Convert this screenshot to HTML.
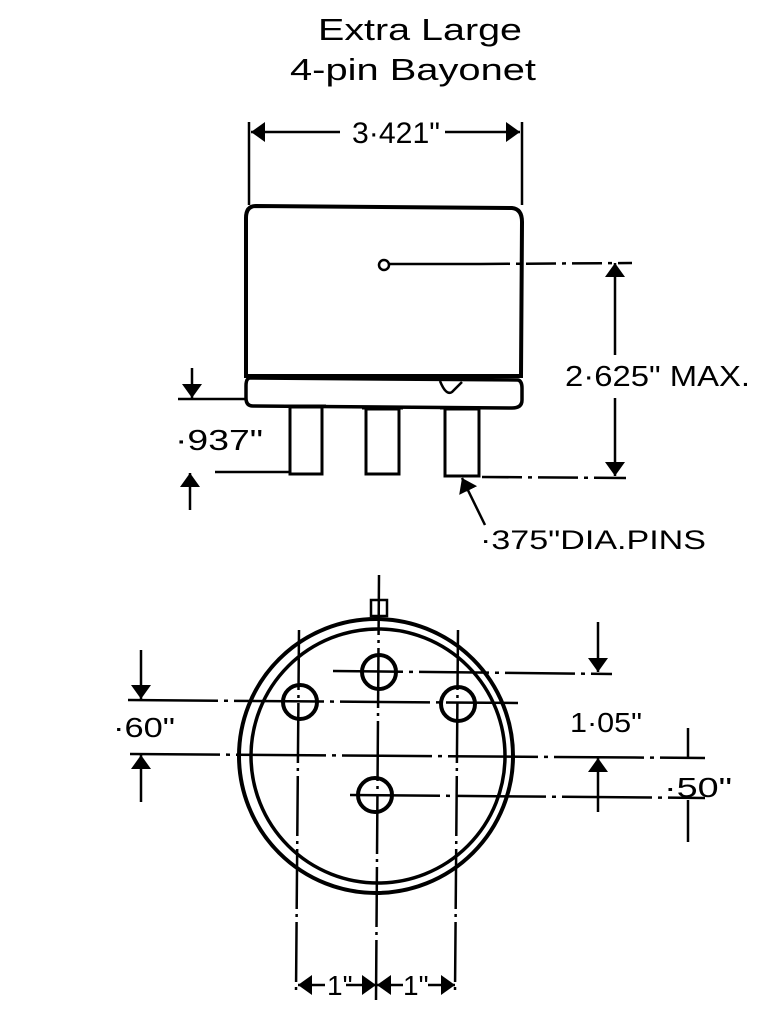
<!DOCTYPE html>
<html><head><meta charset="utf-8"><style>
html,body{margin:0;padding:0;background:#fff;}
svg{display:block;}
text{font-family:"Liberation Sans",sans-serif;fill:#000;}
</style></head><body>
<svg width="768" height="1024" viewBox="0 0 768 1024" xmlns="http://www.w3.org/2000/svg">
<defs>
<marker id="b" viewBox="0 0 10 10" refX="10" refY="5" markerWidth="14" markerHeight="20" orient="auto-start-reverse" markerUnits="userSpaceOnUse" preserveAspectRatio="none"><path d="M0,0 L10,5 L0,10 z" fill="#000"/></marker>
</defs>
<g stroke="#000" fill="none">
<text x="420" y="40" font-size="31" text-anchor="middle" stroke="none" textLength="204" lengthAdjust="spacingAndGlyphs">Extra Large</text>
<text x="413" y="80" font-size="31" text-anchor="middle" stroke="none" textLength="246" lengthAdjust="spacingAndGlyphs">4-pin Bayonet</text>

<!-- 3.421 dimension -->
<line x1="249" y1="122" x2="249" y2="205" stroke-width="2.5"/>
<line x1="522" y1="122" x2="522" y2="205" stroke-width="2.5"/>
<line x1="340" y1="132" x2="251" y2="132" stroke-width="2.5" marker-end="url(#b)"/>
<line x1="445" y1="132" x2="520" y2="132" stroke-width="2.5" marker-end="url(#b)"/>
<text x="352" y="143" font-size="30" stroke="none" textLength="88" lengthAdjust="spacingAndGlyphs">3·421"</text>

<!-- body -->
<path d="M256,206 L512,208 Q522,209 522,222 L521,376 L246,376 L246,218 Q246,206 256,206 Z" stroke-width="4"/>
<path d="M250,378 L518,380 Q522,381 522,388 L522,400 Q522,408 512,408 L253,406 Q246,406 246,398 L246,386 Q246,378 250,378 Z" stroke-width="3.5"/>
<path d="M440,381 Q446,396 452,392 Q456,388 462,382" stroke-width="2.5"/>
<circle cx="384" cy="265" r="5" stroke-width="2.5"/>
<line x1="389" y1="264" x2="480" y2="264" stroke-width="2.5"/>
<line x1="480" y1="264" x2="632" y2="263" stroke-width="2.5" stroke-dasharray="30,6,4,6"/>
<!-- pins -->
<rect x="290" y="407" width="32" height="67" stroke-width="3"/>
<rect x="366" y="409" width="33" height="65" stroke-width="3"/>
<rect x="445" y="409" width="34" height="67" stroke-width="3"/>
<line x1="286" y1="406" x2="326" y2="406" stroke-width="3"/>
<line x1="362" y1="408" x2="403" y2="408" stroke-width="3"/>
<line x1="440" y1="408" x2="484" y2="408" stroke-width="3"/>
<!-- 2.625 -->
<line x1="482" y1="477" x2="626" y2="478" stroke-width="2.5" stroke-dasharray="40,6,4,6"/>
<line x1="615" y1="355" x2="615" y2="263" stroke-width="2.5" marker-end="url(#b)"/>
<line x1="615" y1="398" x2="615" y2="476" stroke-width="2.5" marker-end="url(#b)"/>
<text x="565" y="386" font-size="29" stroke="none" textLength="185" lengthAdjust="spacingAndGlyphs">2·625" MAX.</text>
<!-- .937 -->
<line x1="178" y1="399" x2="246" y2="399" stroke-width="2.5"/>
<line x1="215" y1="472" x2="290" y2="472" stroke-width="2.5"/>
<line x1="192" y1="368" x2="192" y2="398" stroke-width="2.5" marker-end="url(#b)"/>
<line x1="190" y1="510" x2="190" y2="473" stroke-width="2.5" marker-end="url(#b)"/>
<text x="175" y="450" font-size="29" stroke="none" textLength="88" lengthAdjust="spacingAndGlyphs">·937"</text>
<!-- leader -->
<line x1="485" y1="525" x2="462" y2="478" stroke-width="2.5" marker-end="url(#b)"/>
<text x="480" y="549" font-size="27" stroke="none" textLength="226" lengthAdjust="spacingAndGlyphs">·375"DIA.PINS</text>

<!-- bottom view -->
<rect x="371" y="600" width="16" height="16" stroke-width="2.5"/>
<line x1="379" y1="600" x2="379" y2="616" stroke-width="2"/>
<circle cx="376" cy="756" r="137" stroke-width="4"/>
<circle cx="378" cy="756" r="127" stroke-width="3.5"/>
<circle cx="379" cy="672" r="17" stroke-width="4"/>
<circle cx="300" cy="702" r="17" stroke-width="4"/>
<circle cx="458" cy="704" r="17" stroke-width="4"/>
<circle cx="375" cy="795" r="17" stroke-width="4"/>
<!-- centre lines -->
<line x1="379" y1="575" x2="376" y2="1000" stroke-width="2.5" stroke-dasharray="60,5,3,5"/>
<line x1="299" y1="630" x2="296" y2="992" stroke-width="2.5" stroke-dasharray="60,5,3,5"/>
<line x1="458" y1="630" x2="455" y2="992" stroke-width="2.5" stroke-dasharray="60,5,3,5"/>
<line x1="333" y1="671" x2="612" y2="674" stroke-width="2.5" stroke-dasharray="70,6,4,6"/>
<line x1="128" y1="700" x2="518" y2="703" stroke-width="2.5" stroke-dasharray="90,6,4,6"/>
<line x1="130" y1="754" x2="705" y2="758" stroke-width="2.5" stroke-dasharray="90,6,4,6"/>
<line x1="350" y1="795" x2="705" y2="798" stroke-width="2.5" stroke-dasharray="90,6,4,6"/>
<!-- .60 -->
<line x1="141" y1="650" x2="141" y2="699" stroke-width="2.5" marker-end="url(#b)"/>
<line x1="141" y1="802" x2="141" y2="755" stroke-width="2.5" marker-end="url(#b)"/>
<text x="113" y="737" font-size="28" stroke="none" textLength="62" lengthAdjust="spacingAndGlyphs">·60"</text>
<!-- 1.05 -->
<line x1="598" y1="622" x2="598" y2="672" stroke-width="2.5" marker-end="url(#b)"/>
<line x1="598" y1="812" x2="598" y2="758" stroke-width="2.5" marker-end="url(#b)"/>
<text x="570" y="732" font-size="28" stroke="none" textLength="72" lengthAdjust="spacingAndGlyphs">1·05"</text>
<!-- .50 -->
<line x1="688" y1="728" x2="688" y2="757" stroke-width="2.5"/>
<line x1="688" y1="800" x2="688" y2="842" stroke-width="2.5"/>
<text x="664" y="797" font-size="28" stroke="none" textLength="68" lengthAdjust="spacingAndGlyphs">·50"</text>
<!-- bottom 1" 1" -->
<line x1="325" y1="985" x2="298" y2="985" stroke-width="2.5" marker-end="url(#b)"/>
<line x1="346" y1="985" x2="376" y2="985" stroke-width="2.5" marker-end="url(#b)"/>
<line x1="403" y1="985" x2="377" y2="985" stroke-width="2.5" marker-end="url(#b)"/>
<line x1="428" y1="985" x2="455" y2="985" stroke-width="2.5" marker-end="url(#b)"/>
<text x="327" y="995" font-size="28" stroke="none">1"</text>
<text x="403" y="995" font-size="28" stroke="none">1"</text>
</g>
</svg>
</body></html>
